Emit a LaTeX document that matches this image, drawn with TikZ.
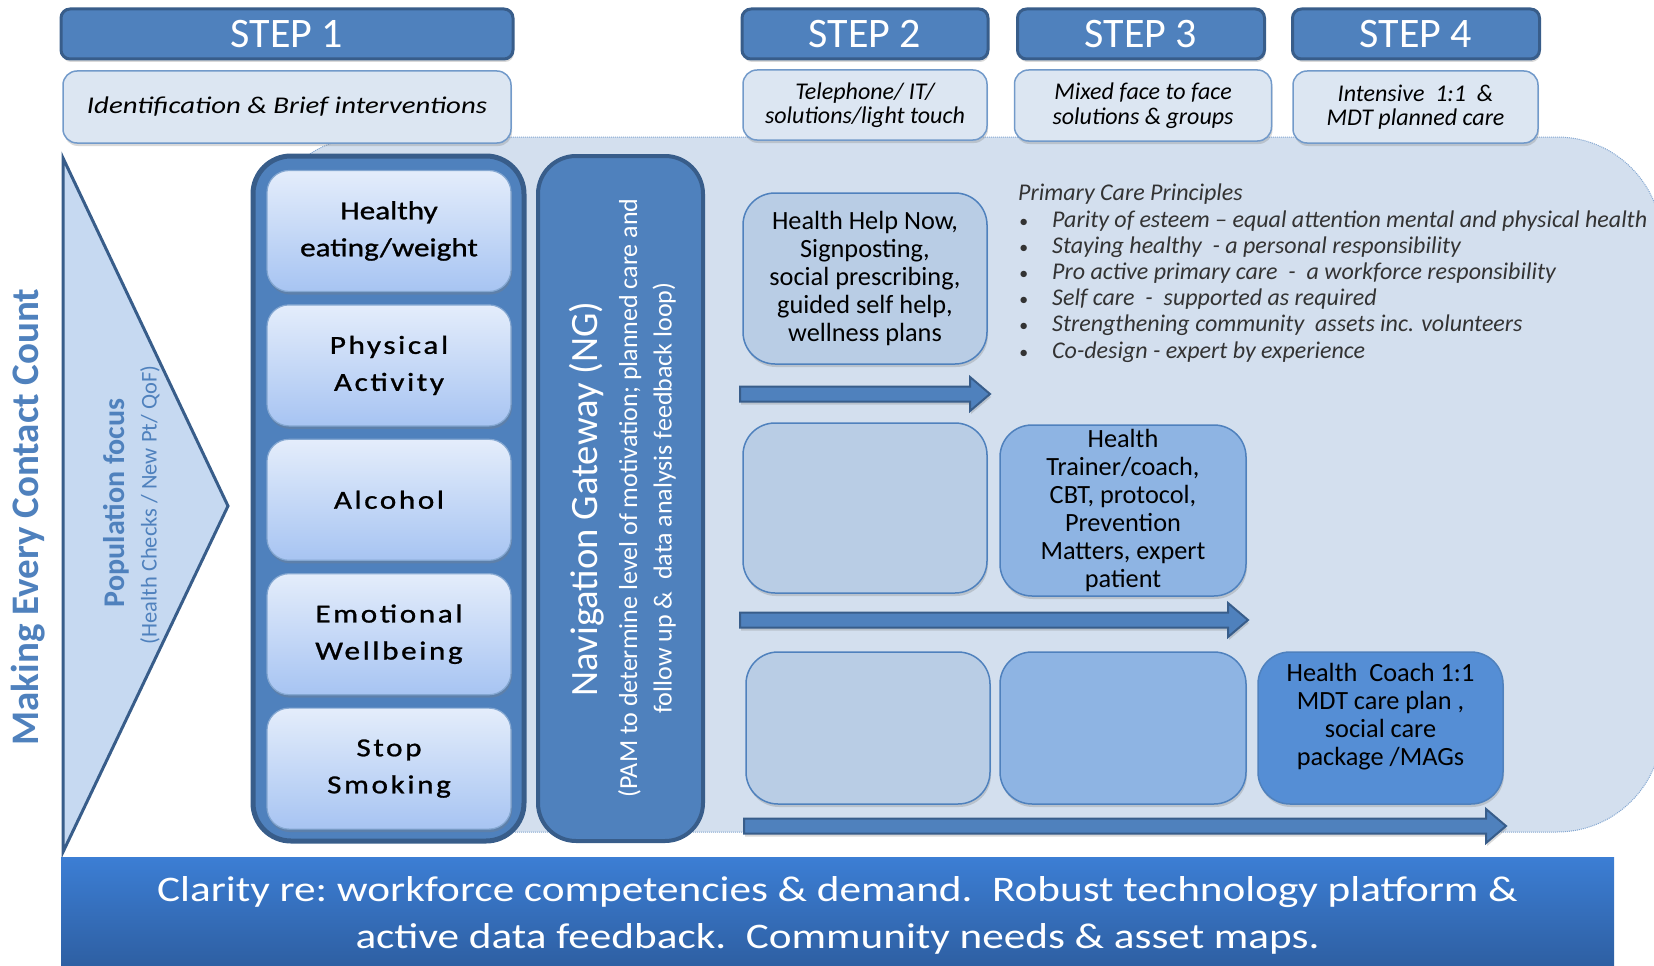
\documentclass[tikz,border=0pt]{standalone}
\usepackage{fontspec}
\setmainfont{Carlito}
\newfontfamily\widecal[FakeStretch=1.2]{Carlito}
\newfontfamily\topicfont[FakeStretch=1.2,FakeBold=1]{Carlito}
\newfontfamily\topicwide[FakeStretch=1.2,FakeBold=1,LetterSpace=10]{Carlito}
\usetikzlibrary{shadows}

\definecolor{stepblue}{HTML}{4F81BD}
\definecolor{edgeblue}{HTML}{385D8A}
\definecolor{paleblue}{HTML}{DCE6F2}
\definecolor{panelblue}{HTML}{D3DFEE}
\definecolor{triblue}{HTML}{C6D9F1}
\definecolor{topictop}{HTML}{E4EDFB}
\definecolor{topicbottom}{HTML}{A7C4F2}
\definecolor{levelone}{HTML}{B9CDE5}
\definecolor{leveltwo}{HTML}{8EB4E3}
\definecolor{levelthree}{HTML}{558ED5}
\definecolor{foottop}{HTML}{3C7ED4}
\definecolor{footbottom}{HTML}{2D5D9F}

% block arrow along a care row: start x, end x, y
\newcommand{\steparrow}[3]{%
  \draw[arrowbody] (#1,#3-7.5) -- (#2-20,#3-7.5) -- (#2-20,#3-17) -- (#2,#3)
    -- (#2-20,#3+17) -- (#2-20,#3+7.5) -- (#1,#3+7.5) -- cycle;}
% one bulleted principle
\newcommand{\pcitem}[1]{\hspace*{1pt}\makebox[33pt][l]{\scalebox{0.75}{\textbullet}}#1}

\tikzset{
  softshadow/.style={drop shadow={shadow xshift=1pt,shadow yshift=-3pt,opacity=0.3}},
  stephead/.style={draw=edgeblue,line width=3pt,fill=stepblue,rounded corners=9pt,
    text=white,font=\fontsize{42}{44}\selectfont,minimum height=50pt,softshadow},
  stepnote/.style={draw=stepblue!80,line width=1.5pt,fill=paleblue,rounded corners=14pt,
    align=center,font=\itshape\fontsize{24}{24.5}\selectfont,softshadow},
  panel/.style={draw=stepblue!70,densely dotted,line width=1pt,fill=panelblue,
    rounded corners=105pt},
  topic/.style={draw=stepblue!70,line width=1.2pt,rounded corners=22pt,
    top color=topictop,bottom color=topicbottom,minimum width=244pt,minimum height=121pt,
    align=center,softshadow},
  carebox/.style={draw=stepblue,line width=1.5pt,rounded corners=32pt,align=center,
    inner sep=0pt,minimum width=244pt,font=\fontsize{26.3}{28}\selectfont,softshadow},
  arrowbody/.style={draw=edgeblue,line width=2pt,fill=stepblue,line join=miter,softshadow},
}

\begin{document}
\begin{tikzpicture}[x=1pt,y=-1pt,line join=round]
\clip (0,0) rectangle (1654,966);

% ---- background panel behind the care rows ----
\draw[panel] (262,137) rectangle (1662,832);

% ---- population triangle ----
\draw[line width=3pt,draw=edgeblue,fill=triblue,line join=miter]
  (63,158) -- (228,506) -- (63,852) -- cycle;
\node[rotate=90,text=stepblue,font=\bfseries\fontsize{39}{40}\selectfont] (mecc) at (28,517)
  {Making Every Contact Count};
\node[rotate=90,text=stepblue,font=\bfseries\fontsize{30}{32}\selectfont] (popfocus) at (116,503)
  {Population focus};
\node[rotate=90,text=stepblue,font=\fontsize{22.5}{24}\selectfont] (popnote) at (150,505)
  {(Health Checks / New Pt/ QoF)};

% ---- step headers ----
\node[stephead,minimum width=452pt] (step1) at (287,34) {STEP 1};
\node[stephead,minimum width=246pt] (step2) at (865,34) {STEP 2};
\node[stephead,minimum width=247pt] (step3) at (1141,34) {STEP 3};
\node[stephead,minimum width=247pt] (step4) at (1416,34) {STEP 4};

\node[stepnote,minimum width=448pt,minimum height=72pt,font=\widecal\itshape\fontsize{24}{25}\selectfont]
  (note1) at (287,107) {Identification \& Brief interventions};
\node[stepnote,minimum width=244pt,minimum height=70pt] (note2) at (865,105)
  {Telephone/ IT/\\solutions/light touch};
\node[stepnote,minimum width=257pt,minimum height=71pt] (note3) at (1143,105.5)
  {Mixed face to face\\solutions \& groups};
\node[stepnote,minimum width=245pt,minimum height=72pt] (note4) at (1415.5,107)
  {Intensive\ \ 1:1\ \ \&\\MDT planned care};

% ---- lifestyle topics ----
\node[draw=edgeblue,line width=5pt,fill=stepblue,rounded corners=38pt,
  minimum width=271pt,minimum height=685pt] (topics) at (388.5,498.5) {};
\foreach \i/\fnt/\txt in {0/\topicfont/{Healthy\\eating/weight},1/\topicwide/{Physical\\Activity},
                          2/\topicwide/{Alcohol},3/\topicwide/{Emotional\\Wellbeing},
                          4/\topicwide/{Stop\\Smoking}}
  \node[topic,font=\fnt\fontsize{26}{37}\selectfont] (topic\i) at (389,231+134.4*\i) {\txt};

% ---- navigation gateway ----
\node[draw=edgeblue,line width=4pt,fill=stepblue,rounded corners=38pt,
  minimum width=165pt,minimum height=685pt] (nav) at (620.5,498.5) {};
\node[rotate=90,text=white,font=\fontsize{38.7}{40}\selectfont] (navtitle) at (587,499)
  {Navigation Gateway (NG)};
\node[rotate=90,text=white,align=center,font=\fontsize{26}{34.5}\selectfont] (navnote) at (647,498)
  {(PAM to determine level of motivation; planned care and\\follow up \&\ \ data analysis feedback loop)};

% ---- care rows ----
\node[carebox,fill=levelone,minimum height=171pt] (helpnow) at (865,278.5)
  {Health Help Now,\\Signposting,\\social prescribing,\\guided self help,\\wellness plans};
\steparrow{740}{990}{394}

\node[carebox,fill=levelone,minimum height=170pt] (rowtwo) at (865,508) {};
\node[carebox,fill=leveltwo,minimum width=246pt,minimum height=171pt] (trainer) at (1123,510.5)
  {Health\\Trainer/coach,\\CBT, protocol,\\Prevention\\Matters, expert\\patient};
\steparrow{740}{1248}{620}

\node[carebox,fill=levelone,minimum height=152pt] (rowthree) at (868,728) {};
\node[carebox,fill=leveltwo,minimum width=246pt,minimum height=152pt] (rowthreeb) at (1123,728) {};
\node[carebox,fill=levelthree,minimum width=245pt,minimum height=152pt] (coach) at (1380.5,728)
  {Health\ \ Coach 1:1\\MDT care plan ,\\social care\\package /MAGs\\~};
\steparrow{744}{1506}{826}

% ---- principles ----
\node[anchor=north west,align=left,inner sep=0pt,text=black!80,
  font=\itshape\fontsize{24}{26.2}\selectfont] (principles) at (1018,184)
  {Primary Care Principles\\
   \pcitem{Parity of esteem -- equal attention mental and physical health}\\
   \pcitem{Staying healthy\ \ - a personal responsibility}\\
   \pcitem{Pro active primary care\ \ -\ \ a workforce responsibility}\\
   \pcitem{Self care\ \ -\ \ supported as required}\\
   \pcitem{Strengthening community\ \ assets inc. volunteers}\\
   \pcitem{Co-design - expert by experience}};

% ---- footer ----
\node[top color=foottop,bottom color=footbottom,minimum width=1553pt,minimum height=117pt,
  text=white,align=center,font=\widecal\fontsize{36}{47}\selectfont] (footer) at (837.5,915.5)
  {Clarity re:\ workforce competencies \& demand.\ \ Robust technology platform \&\\
   active data feedback.\ \ Community needs \& asset maps.};
\end{tikzpicture}
\end{document}
